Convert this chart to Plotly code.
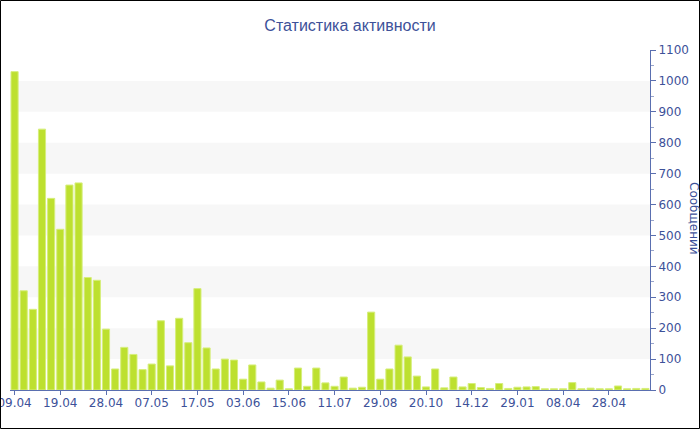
import plotly.graph_objects as go

# Data
values = [1030, 321, 261, 844, 620, 520, 663, 670, 364, 355,
          197, 68, 138, 115, 66, 84, 224, 78, 232, 153,
          328, 136, 68, 100, 97, 35, 81, 26, 6, 32,
          4, 71, 12, 71, 23, 12, 42, 6, 9, 252,
          35, 68, 145, 107, 45, 10, 68, 7, 42, 10,
          21, 8, 5, 21, 5, 9, 10, 11, 4, 4,
          4, 24, 4, 6, 4, 4, 13, 4, 5, 5]
positions = list(range(len(values)))
tick_positions = [0, 5, 10, 15, 20, 25, 30, 35, 40, 45, 50, 55, 60, 65]
tick_labels = ["09.04", "19.04", "28.04", "07.05", "17.05", "03.06", "15.06",
               "11.07", "29.08", "20.10", "14.12", "29.01", "08.04", "28.04"]
band_starts = [100, 300, 500, 700, 900]

title_text = "Статистика активности"
axis_title = "Сообщений"

W, H = 700, 430
ML, MR, MT, MB = 10, 50, 50, 40
PW, PH = W - ML - MR, H - MT - MB

blue = "#3d5199"
axis_col = "#5a6fb0"
bar_col = "#bde02f"

fig = go.Figure()
fig.add_trace(go.Bar(
    x=positions, y=values,
    marker=dict(color=bar_col, line=dict(color="#d6ee7c", width=1)),
    width=0.78,
    hoverinfo="x+y",
))

shapes = []
for b in band_starts:
    shapes.append(dict(type="rect", xref="paper", yref="y", x0=0, x1=1,
                       y0=b, y1=b + 100, fillcolor="#f7f7f7", line=dict(width=0),
                       layer="below"))

def px_to_paper_x(px):
    return (px - ML) / PW
def px_to_paper_y(py):
    return (H - MB - py) / PH

# outer black border
shapes.append(dict(type="rect", xref="paper", yref="paper",
                   x0=px_to_paper_x(0.5), x1=px_to_paper_x(699.5),
                   y0=px_to_paper_y(428.5), y1=px_to_paper_y(0.5),
                   line=dict(color="black", width=1), fillcolor="rgba(0,0,0,0)"))

fig.update_layout(
    width=W, height=H,
    margin=dict(l=ML, r=MR, t=MT, b=MB, pad=0, autoexpand=False),
    paper_bgcolor="white", plot_bgcolor="white",
    showlegend=False,
    title=dict(text=title_text, x=0.5, xanchor="center", y=1 - 25 / H, yanchor="middle",
               font=dict(family="Liberation Sans", size=16, color=blue)),
    shapes=shapes,
    bargap=0.2,
    font=dict(family="DejaVu Sans", size=12, color=blue),
)
fig.update_xaxes(
    range=[-0.5, len(values) - 0.5],
    tickmode="array", tickvals=tick_positions, ticktext=tick_labels,
    showline=True, linecolor=axis_col, linewidth=1,
    ticks="outside", ticklen=4, tickcolor=axis_col,
    showgrid=False, zeroline=False, automargin=False,
    ticklabeloverflow="allow", ticklabelstandoff=-2,
    tickfont=dict(family="DejaVu Sans", size=12, color=blue),
    fixedrange=True,
)
fig.update_yaxes(
    side="right", range=[0, 1100], dtick=100,
    showline=True, linecolor=axis_col, linewidth=1,
    ticks="outside", ticklen=5, tickcolor=axis_col,
    minor=dict(ticks="outside", ticklen=3, dtick=50, tickcolor="#9aa6cc", showgrid=False),
    showgrid=False, zeroline=False, automargin=False,
    ticklabeloverflow="allow",
    tickfont=dict(family="DejaVu Sans", size=12, color=blue),
    fixedrange=True,
)
fig.add_annotation(text=axis_title, xref="paper", yref="paper",
                   x=px_to_paper_x(694), y=px_to_paper_y(218),
                   xanchor="center", yanchor="middle", showarrow=False,
                   textangle=90,
                   font=dict(family="DejaVu Sans", size=12, color=blue))

fig.write_html("out.html", config={"displayModeBar": False},
               post_script="document.body.style.margin='0';document.body.style.padding='0';")
